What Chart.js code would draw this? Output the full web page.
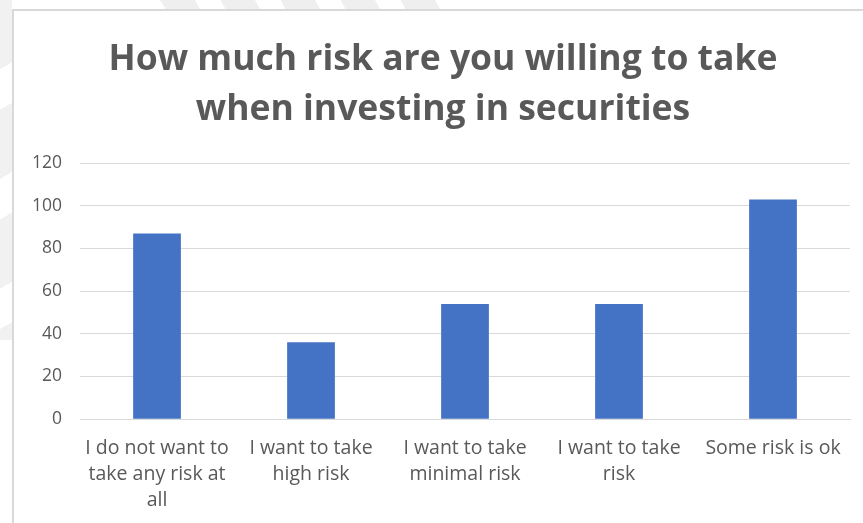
<!DOCTYPE html>
<html>
<head>
<meta charset="utf-8">
<script src="https://cdn.jsdelivr.net/npm/chart.js@4"></script>
<style>
  html, body { margin: 0; padding: 0; background: #fff; }
  body { width: 863px; height: 523px; overflow: hidden; position: relative; }
  /* faint striped page backdrop around the chart box */
  .stripes-top {
    position: absolute; left: 140px; top: 0; width: 300px; height: 9px;
    background: repeating-linear-gradient(60deg, #fff 0 22px, #efefef 22px 52px);
  }
  .stripes-left {
    position: absolute; left: 0; top: 0; width: 12px; height: 340px;
    background: repeating-linear-gradient(150deg, #f1f1f1 0 60px, #fff 60px 95px);
  }
  #frame {
    position: absolute; left: 12px; top: 9px;
    width: 870px; height: 520px;
    border-left: 2px solid #d9d9d9; border-top: 2px solid #d9d9d9;
    background: #fff; overflow: hidden;
  }
  #riskChart { display: block; }
</style>
</head>
<body>
<div class="stripes-top"></div>
<div class="stripes-left"></div>
<div id="frame">
  <canvas id="riskChart" width="858" height="512"></canvas>
</div>
<script>
  // Survey answers and respondent counts
  const categories = [
    ["I do not want to", "take any risk at", "all"],
    ["I want to take", "high risk"],
    ["I want to take", "minimal risk"],
    ["I want to take", "risk"],
    "Some risk is ok",
  ]
  const counts = [87, 36, 54, 54, 103]
  const yTicks = [0, 20, 40, 60, 80, 100, 120]

  const textColor = "#595959"
  const gridColor = "#d9d9d9"
  const fontFamily = "'Open Sans', sans-serif"

  // nudge the title a little to the right of the padded box
  const shiftTitle = {
    id: "shiftTitle",
    afterLayout: chart => {
      if (chart.titleBlock) {
        chart.titleBlock.left += 11
        chart.titleBlock.right += 11
      }
    },
  }

  new Chart(document.getElementById("riskChart"), {
    type: "bar",
    data: {
      labels: categories,
      datasets: [
        {
          data: counts,
          backgroundColor: "#4472C4",
          categoryPercentage: 1,
          barPercentage: 0.31,
        },
      ],
    },
    options: {
      responsive: false,
      animation: false,
      layout: { padding: { left: 0, right: 22, bottom: 2 } },
      plugins: {
        legend: { display: false },
        tooltip: { enabled: false },
        title: {
          display: true,
          text: ["How much risk are you willing to take", "when investing in securities"],
          color: textColor,
          font: { family: fontFamily, size: 35.5, weight: "bold", lineHeight: 1.41 },
          padding: { top: 24, bottom: 28 },
        },
      },
      scales: {
        x: {
          grid: { display: false },
          border: { color: gridColor, width: 1 },
          ticks: {
            color: textColor,
            font: { family: fontFamily, size: 19.5, lineHeight: 1.33 },
            maxRotation: 0,
            autoSkip: false,
            padding: 8,
          },
        },
        y: {
          min: 0,
          max: 120,
          afterBuildTicks: axis => {
            axis.ticks = yTicks.map(v => ({ value: v }))
          },
          grid: { color: gridColor, lineWidth: 1, drawTicks: false },
          border: { display: false },
          ticks: {
            color: textColor,
            font: { family: fontFamily, size: 17.5 },
            padding: 18,
          },
        },
      },
    },
    plugins: [shiftTitle],
  })
</script>
</body>
</html>
